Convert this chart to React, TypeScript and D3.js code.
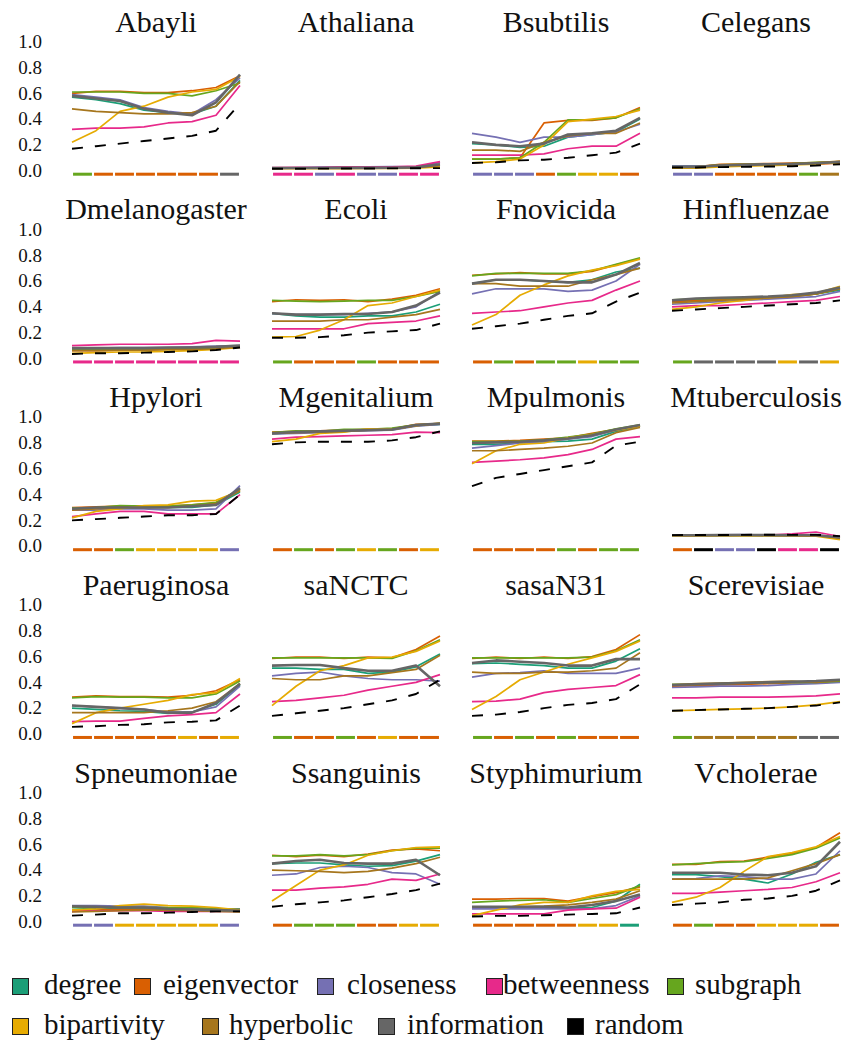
import React from 'react';
import * as d3 from 'd3';

const panelNames = ['Abayli','Athaliana','Bsubtilis','Celegans','Dmelanogaster','Ecoli','Fnovicida','Hinfluenzae','Hpylori','Mgenitalium','Mpulmonis','Mtuberculosis','Paeruginosa','saNCTC','sasaN31','Scerevisiae','Spneumoniae','Ssanguinis','Styphimurium','Vcholerae'];
const measures = ['degree','eigenvector','closeness','betweenness','subgraph','bipartivity','hyperbolic','information','random'];
const colors = ['#1b9e77','#d95f02','#7570b3','#e7298a','#66a61e','#e6ab02','#a6761d','#666666','#000000'];
const yTicks = [0, 0.2, 0.4, 0.6, 0.8, 1.0];

const degree = [
  [0.57,0.55,0.52,0.47,0.45,0.44,0.50,0.70],
  [0.022,0.022,0.022,0.023,0.023,0.024,0.025,0.04],
  [0.21,0.20,0.18,0.19,0.26,0.28,0.30,0.40],
  [0.035,0.035,0.04,0.045,0.05,0.05,0.055,0.065],
  [0.07,0.07,0.07,0.07,0.075,0.08,0.08,0.09],
  [0.35,0.33,0.32,0.32,0.33,0.33,0.36,0.42],
  [0.58,0.61,0.61,0.60,0.59,0.61,0.67,0.70],
  [0.44,0.45,0.46,0.46,0.47,0.48,0.50,0.53],
  [0.29,0.30,0.30,0.30,0.30,0.30,0.32,0.42],
  [0.87,0.88,0.89,0.895,0.90,0.905,0.935,0.945],
  [0.79,0.79,0.80,0.81,0.815,0.83,0.89,0.93],
  [0.083,0.083,0.084,0.084,0.084,0.083,0.082,0.065],
  [0.20,0.19,0.18,0.175,0.16,0.17,0.23,0.38],
  [0.51,0.51,0.50,0.50,0.47,0.48,0.52,0.62],
  [0.545,0.55,0.54,0.53,0.51,0.51,0.565,0.66],
  [0.375,0.38,0.385,0.39,0.395,0.40,0.395,0.41],
  [0.11,0.10,0.10,0.10,0.09,0.09,0.085,0.08],
  [0.45,0.455,0.455,0.44,0.43,0.435,0.47,0.52],
  [0.105,0.105,0.105,0.105,0.105,0.11,0.16,0.29],
  [0.365,0.365,0.35,0.33,0.30,0.37,0.46,0.52],
];
const eigenvector = [
  [0.60,0.615,0.615,0.605,0.605,0.62,0.645,0.735],
  [0.02,0.02,0.02,0.02,0.022,0.022,0.025,0.04],
  [0.09,0.09,0.10,0.37,0.39,0.39,0.41,0.49],
  [0.03,0.03,0.05,0.052,0.056,0.058,0.062,0.07],
  [0.06,0.06,0.065,0.065,0.07,0.07,0.08,0.09],
  [0.44,0.455,0.45,0.455,0.44,0.46,0.49,0.54],
  [0.645,0.655,0.665,0.655,0.655,0.675,0.725,0.775],
  [0.44,0.45,0.46,0.465,0.47,0.48,0.50,0.54],
  [0.30,0.305,0.31,0.31,0.31,0.32,0.335,0.44],
  [0.885,0.89,0.895,0.90,0.905,0.91,0.945,0.95],
  [0.815,0.815,0.82,0.83,0.84,0.875,0.905,0.935],
  [0.087,0.085,0.085,0.086,0.085,0.085,0.083,0.065],
  [0.285,0.295,0.29,0.29,0.285,0.30,0.335,0.42],
  [0.585,0.595,0.595,0.585,0.595,0.59,0.655,0.76],
  [0.585,0.595,0.585,0.595,0.585,0.60,0.655,0.77],
  [0.37,0.375,0.38,0.385,0.39,0.395,0.395,0.405],
  [0.09,0.09,0.095,0.095,0.09,0.09,0.085,0.085],
  [0.515,0.505,0.515,0.505,0.525,0.555,0.565,0.55],
  [0.175,0.175,0.18,0.18,0.16,0.195,0.225,0.27],
  [0.445,0.445,0.465,0.47,0.50,0.53,0.575,0.69],
];
const closeness = [
  [0.59,0.57,0.55,0.49,0.46,0.44,0.55,0.72],
  [0.022,0.023,0.027,0.027,0.03,0.031,0.03,0.065],
  [0.29,0.26,0.22,0.26,0.26,0.28,0.30,0.36],
  [0.036,0.036,0.04,0.045,0.05,0.05,0.055,0.065],
  [0.08,0.08,0.085,0.085,0.085,0.09,0.095,0.10],
  [0.35,0.34,0.34,0.34,0.35,0.36,0.40,0.52],
  [0.50,0.54,0.54,0.54,0.52,0.53,0.60,0.73],
  [0.42,0.43,0.44,0.45,0.46,0.47,0.48,0.52],
  [0.28,0.28,0.29,0.29,0.28,0.28,0.29,0.47],
  [0.87,0.875,0.88,0.89,0.895,0.90,0.93,0.945],
  [0.76,0.78,0.80,0.81,0.83,0.85,0.90,0.935],
  [0.085,0.086,0.088,0.089,0.086,0.087,0.088,0.07],
  [0.22,0.21,0.20,0.19,0.17,0.17,0.21,0.37],
  [0.45,0.47,0.48,0.45,0.43,0.42,0.42,0.41],
  [0.44,0.47,0.475,0.49,0.47,0.47,0.47,0.51],
  [0.36,0.365,0.37,0.37,0.375,0.385,0.39,0.40],
  [0.125,0.125,0.12,0.12,0.11,0.105,0.10,0.10],
  [0.36,0.37,0.42,0.43,0.42,0.38,0.37,0.29],
  [0.10,0.10,0.10,0.10,0.10,0.10,0.125,0.20],
  [0.33,0.335,0.355,0.35,0.33,0.33,0.37,0.55],
];
const betweenness = [
  [0.32,0.33,0.33,0.34,0.37,0.38,0.43,0.66],
  [0.025,0.026,0.025,0.03,0.028,0.029,0.035,0.07],
  [0.12,0.12,0.12,0.13,0.17,0.19,0.19,0.29],
  [0.03,0.03,0.035,0.04,0.045,0.05,0.05,0.06],
  [0.10,0.105,0.11,0.11,0.11,0.115,0.14,0.135],
  [0.23,0.23,0.23,0.23,0.27,0.28,0.29,0.33],
  [0.35,0.36,0.37,0.40,0.43,0.45,0.53,0.60],
  [0.40,0.41,0.41,0.42,0.43,0.44,0.45,0.48],
  [0.23,0.25,0.27,0.27,0.25,0.25,0.25,0.40],
  [0.83,0.845,0.85,0.855,0.86,0.865,0.885,0.88],
  [0.65,0.66,0.67,0.685,0.71,0.75,0.83,0.85],
  [0.083,0.084,0.085,0.087,0.086,0.095,0.11,0.075],
  [0.095,0.10,0.10,0.12,0.14,0.15,0.165,0.31],
  [0.25,0.26,0.28,0.30,0.34,0.37,0.40,0.46],
  [0.25,0.255,0.27,0.32,0.345,0.36,0.375,0.46],
  [0.28,0.28,0.285,0.285,0.285,0.29,0.295,0.31],
  [0.08,0.085,0.085,0.085,0.08,0.08,0.08,0.08],
  [0.245,0.245,0.26,0.27,0.29,0.33,0.32,0.37],
  [0.06,0.06,0.06,0.06,0.09,0.10,0.105,0.19],
  [0.22,0.22,0.23,0.24,0.25,0.265,0.31,0.38],
];
const subgraph = [
  [0.61,0.61,0.61,0.60,0.60,0.58,0.62,0.68],
  [0.02,0.02,0.02,0.021,0.022,0.023,0.025,0.04],
  [0.09,0.09,0.10,0.22,0.395,0.395,0.41,0.48],
  [0.03,0.03,0.045,0.05,0.052,0.055,0.064,0.068],
  [0.065,0.065,0.07,0.07,0.07,0.075,0.08,0.09],
  [0.45,0.445,0.44,0.445,0.45,0.45,0.48,0.52],
  [0.64,0.66,0.66,0.66,0.66,0.68,0.73,0.78],
  [0.455,0.46,0.465,0.47,0.475,0.485,0.50,0.54],
  [0.295,0.30,0.315,0.31,0.31,0.32,0.34,0.44],
  [0.88,0.895,0.89,0.905,0.905,0.915,0.94,0.95],
  [0.81,0.81,0.815,0.825,0.845,0.87,0.91,0.94],
  [0.084,0.084,0.085,0.085,0.085,0.084,0.083,0.066],
  [0.28,0.29,0.285,0.285,0.28,0.28,0.31,0.41],
  [0.59,0.59,0.59,0.59,0.59,0.585,0.645,0.73],
  [0.59,0.59,0.59,0.59,0.59,0.595,0.645,0.73],
  [0.385,0.385,0.39,0.395,0.40,0.40,0.40,0.41],
  [0.11,0.11,0.11,0.11,0.11,0.11,0.10,0.095],
  [0.51,0.51,0.52,0.51,0.52,0.55,0.57,0.57],
  [0.15,0.16,0.165,0.17,0.15,0.18,0.21,0.28],
  [0.44,0.45,0.46,0.465,0.49,0.52,0.57,0.65],
];
const bipartivity = [
  [0.22,0.31,0.46,0.50,0.57,0.61,0.63,0.73],
  [0.015,0.015,0.016,0.016,0.017,0.018,0.02,0.03],
  [0.06,0.07,0.09,0.20,0.38,0.40,0.42,0.47],
  [0.02,0.02,0.03,0.035,0.04,0.045,0.05,0.06],
  [0.04,0.045,0.05,0.05,0.055,0.06,0.07,0.085],
  [0.165,0.17,0.22,0.30,0.41,0.43,0.48,0.53],
  [0.26,0.34,0.49,0.57,0.64,0.685,0.72,0.77],
  [0.38,0.40,0.43,0.45,0.47,0.495,0.505,0.56],
  [0.22,0.27,0.29,0.315,0.32,0.35,0.355,0.43],
  [0.81,0.83,0.875,0.885,0.91,0.905,0.935,0.955],
  [0.64,0.74,0.79,0.80,0.84,0.865,0.90,0.93],
  [0.08,0.08,0.08,0.08,0.08,0.079,0.078,0.05],
  [0.08,0.165,0.20,0.23,0.26,0.305,0.32,0.43],
  [0.22,0.37,0.49,0.53,0.59,0.595,0.64,0.72],
  [0.19,0.29,0.42,0.48,0.54,0.59,0.64,0.72],
  [0.18,0.185,0.19,0.195,0.20,0.21,0.225,0.25],
  [0.09,0.10,0.125,0.137,0.125,0.12,0.11,0.09],
  [0.16,0.28,0.40,0.44,0.515,0.55,0.575,0.58],
  [0.047,0.09,0.13,0.15,0.15,0.20,0.235,0.25],
  [0.15,0.19,0.265,0.39,0.505,0.535,0.58,0.66],
];
const hyperbolic = [
  [0.48,0.46,0.45,0.44,0.44,0.45,0.50,0.69],
  [0.02,0.02,0.02,0.021,0.021,0.022,0.024,0.04],
  [0.16,0.16,0.15,0.22,0.27,0.29,0.29,0.37],
  [0.03,0.03,0.045,0.05,0.05,0.055,0.06,0.074],
  [0.06,0.06,0.065,0.065,0.07,0.07,0.075,0.09],
  [0.29,0.29,0.29,0.30,0.30,0.32,0.34,0.38],
  [0.58,0.58,0.56,0.56,0.56,0.61,0.65,0.70],
  [0.43,0.44,0.45,0.46,0.47,0.48,0.50,0.54],
  [0.28,0.29,0.30,0.30,0.30,0.31,0.33,0.43],
  [0.875,0.88,0.885,0.89,0.90,0.905,0.935,0.95],
  [0.74,0.74,0.75,0.76,0.775,0.80,0.88,0.92],
  [0.084,0.084,0.085,0.085,0.085,0.084,0.082,0.064],
  [0.165,0.165,0.165,0.165,0.18,0.20,0.25,0.39],
  [0.43,0.42,0.42,0.45,0.45,0.475,0.50,0.61],
  [0.48,0.47,0.47,0.48,0.48,0.49,0.51,0.63],
  [0.38,0.39,0.395,0.40,0.405,0.41,0.40,0.415],
  [0.075,0.08,0.085,0.09,0.09,0.085,0.08,0.075],
  [0.40,0.395,0.39,0.38,0.39,0.415,0.45,0.50],
  [0.116,0.116,0.116,0.12,0.13,0.15,0.175,0.24],
  [0.33,0.33,0.33,0.33,0.34,0.395,0.45,0.52],
];
const information = [
  [0.58,0.56,0.54,0.48,0.45,0.43,0.53,0.745],
  [0.02,0.021,0.021,0.022,0.022,0.023,0.026,0.05],
  [0.22,0.20,0.19,0.21,0.28,0.29,0.31,0.41],
  [0.03,0.03,0.04,0.045,0.05,0.052,0.058,0.068],
  [0.08,0.08,0.08,0.08,0.085,0.085,0.09,0.10],
  [0.35,0.34,0.34,0.345,0.345,0.36,0.41,0.51],
  [0.58,0.61,0.61,0.60,0.59,0.59,0.65,0.74],
  [0.45,0.465,0.47,0.475,0.48,0.49,0.51,0.55],
  [0.29,0.30,0.30,0.30,0.30,0.31,0.32,0.45],
  [0.875,0.885,0.89,0.895,0.90,0.905,0.94,0.95],
  [0.80,0.805,0.81,0.82,0.835,0.86,0.905,0.94],
  [0.085,0.085,0.086,0.087,0.086,0.085,0.085,0.068],
  [0.22,0.21,0.20,0.19,0.165,0.165,0.24,0.39],
  [0.53,0.535,0.535,0.51,0.49,0.49,0.53,0.37],
  [0.55,0.57,0.56,0.55,0.53,0.53,0.58,0.58],
  [0.38,0.385,0.39,0.395,0.40,0.405,0.41,0.42],
  [0.12,0.115,0.11,0.11,0.10,0.095,0.09,0.085],
  [0.45,0.47,0.48,0.455,0.45,0.45,0.48,0.36],
  [0.116,0.116,0.116,0.116,0.11,0.13,0.16,0.21],
  [0.38,0.38,0.38,0.365,0.36,0.38,0.43,0.62],
];
const random = [
  [0.17,0.19,0.21,0.23,0.25,0.27,0.31,0.52],
  [0.015,0.015,0.016,0.017,0.017,0.018,0.019,0.02],
  [0.06,0.065,0.08,0.085,0.10,0.12,0.14,0.21],
  [0.025,0.025,0.028,0.03,0.032,0.035,0.04,0.05],
  [0.035,0.04,0.04,0.045,0.05,0.055,0.065,0.085],
  [0.16,0.16,0.165,0.18,0.20,0.21,0.22,0.27],
  [0.23,0.25,0.27,0.30,0.33,0.35,0.44,0.51],
  [0.37,0.38,0.39,0.40,0.41,0.42,0.43,0.45],
  [0.20,0.21,0.22,0.23,0.24,0.24,0.25,0.40],
  [0.79,0.805,0.81,0.81,0.81,0.82,0.845,0.89],
  [0.465,0.53,0.56,0.59,0.62,0.65,0.78,0.81],
  [0.086,0.087,0.087,0.088,0.089,0.088,0.089,0.078],
  [0.055,0.06,0.07,0.075,0.09,0.095,0.105,0.22],
  [0.14,0.16,0.18,0.20,0.23,0.26,0.31,0.42],
  [0.14,0.15,0.17,0.20,0.225,0.24,0.27,0.385],
  [0.18,0.185,0.19,0.195,0.20,0.21,0.22,0.245],
  [0.047,0.055,0.065,0.065,0.07,0.075,0.08,0.08],
  [0.116,0.135,0.15,0.165,0.19,0.215,0.245,0.295],
  [0.04,0.045,0.045,0.05,0.055,0.06,0.065,0.11],
  [0.13,0.14,0.15,0.17,0.18,0.20,0.24,0.32],
];

// best measure at each of the 8 points, per panel
const best = [
  ['subgraph','eigenvector','eigenvector','eigenvector','eigenvector','eigenvector','eigenvector','information'],
  ['betweenness','betweenness','closeness','betweenness','closeness','closeness','betweenness','betweenness'],
  ['closeness','closeness','closeness','eigenvector','subgraph','bipartivity','bipartivity','eigenvector'],
  ['closeness','closeness','eigenvector','eigenvector','eigenvector','eigenvector','subgraph','hyperbolic'],
  ['betweenness','betweenness','betweenness','betweenness','betweenness','betweenness','betweenness','betweenness'],
  ['subgraph','eigenvector','eigenvector','eigenvector','subgraph','eigenvector','eigenvector','eigenvector'],
  ['eigenvector','subgraph','eigenvector','subgraph','subgraph','bipartivity','subgraph','subgraph'],
  ['subgraph','information','information','information','information','bipartivity','information','bipartivity'],
  ['eigenvector','eigenvector','subgraph','bipartivity','bipartivity','bipartivity','bipartivity','closeness'],
  ['eigenvector','subgraph','eigenvector','subgraph','bipartivity','subgraph','eigenvector','bipartivity'],
  ['eigenvector','eigenvector','eigenvector','eigenvector','subgraph','eigenvector','subgraph','subgraph'],
  ['eigenvector','random','closeness','closeness','random','betweenness','betweenness','random'],
  ['eigenvector','eigenvector','eigenvector','eigenvector','eigenvector','bipartivity','eigenvector','bipartivity'],
  ['subgraph','eigenvector','eigenvector','subgraph','eigenvector','bipartivity','eigenvector','eigenvector'],
  ['subgraph','eigenvector','subgraph','eigenvector','subgraph','eigenvector','eigenvector','eigenvector'],
  ['subgraph','hyperbolic','hyperbolic','hyperbolic','hyperbolic','hyperbolic','information','information'],
  ['closeness','closeness','bipartivity','bipartivity','bipartivity','bipartivity','bipartivity','closeness'],
  ['eigenvector','subgraph','subgraph','subgraph','eigenvector','eigenvector','bipartivity','bipartivity'],
  ['eigenvector','eigenvector','eigenvector','eigenvector','eigenvector','bipartivity','bipartivity','degree'],
  ['eigenvector','subgraph','eigenvector','eigenvector','bipartivity','bipartivity','bipartivity','eigenvector'],
];

const seriesData = [degree, eigenvector, closeness, betweenness, subgraph, bipartivity, hyperbolic, information, random];

// legend rows: [measure, swatch x, label x]
const legendRow1 = [['degree', 12, 44], ['eigenvector', 134, 163], ['closeness', 317, 347], ['betweenness', 486, 503], ['subgraph', 667, 695]];
const legendRow2 = [['bipartivity', 12, 44], ['hyperbolic', 202, 229], ['information', 378, 407], ['random', 567, 595]];

const SERIF = "'Liberation Serif', 'DejaVu Serif', 'Times New Roman', serif";

export default function App() {
  const W = 851, H = 1046;
  const colStep = 200, rowStep = 187.75;
  const left0 = 72, plotW = 168, zero0 = 170.7, plotH = 129;
  const x = d3.scaleLinear().domain([0, 7]).range([0, plotW]);
  const band = d3.scaleBand<number>().domain(d3.range(8)).range([0, plotW]).paddingInner(0.1).paddingOuter(0.05);
  const colorOf = d3.scaleOrdinal<string, string>().domain(measures).range(colors);
  const txt = (size: number) => ({ fontFamily: SERIF, fontSize: `${size}px` });

  return (
    <svg width={W} height={H} style={{ position: 'absolute', left: 0, top: 0, background: '#fff' }}>
      {panelNames.map((name, p) => {
        const r = Math.floor(p / 4), c = p % 4;
        const ox = left0 + c * colStep;
        const zero = zero0 + r * rowStep;
        const y = d3.scaleLinear().domain([0, 1]).range([zero, zero - plotH]);
        const line = d3.line<number>().x((_, i) => x(i)).y(d => y(d));
        return (
          <g key={name}>
            <text x={ox + plotW / 2} y={zero - 139} textAnchor="middle" style={txt(30)} fill="#111">{name}</text>
            {c === 0 && yTicks.map(t => (
              <text key={t} x={42} y={y(t)} dy="0.33em" textAnchor="end" style={txt(19)} fill="#111">{d3.format('.1f')(t)}</text>
            ))}
            <g transform={`translate(${ox},0)`}>
              {seriesData.map((s, k) => (
                <path key={measures[k]} d={line(s[p]) || ''} fill="none" stroke={colors[k]}
                  strokeWidth={k === 7 ? 2.6 : k === 8 ? 1.9 : 1.7}
                  strokeDasharray={k === 8 ? '11,12' : undefined}
                  strokeLinejoin="round" />
              ))}
              {best[p].map((m, i) => (
                <rect key={i} x={band(i)} y={zero + 2} width={band.bandwidth()} height={3} fill={colorOf(m)} />
              ))}
            </g>
          </g>
        );
      })}
      {[legendRow1, legendRow2].map((row, ri) => (
        <g key={ri}>
          {row.map(([m, sx, tx]) => (
            <g key={m as string}>
              <rect x={(sx as number) + 0.5} y={978.5 + ri * 40} width={16} height={16} fill={colorOf(m as string)} stroke="#222" strokeWidth={1} />
              <text x={tx as number} y={994 + ri * 40} style={txt(29)} fill="#111">{m}</text>
            </g>
          ))}
        </g>
      ))}
    </svg>
  );
}
